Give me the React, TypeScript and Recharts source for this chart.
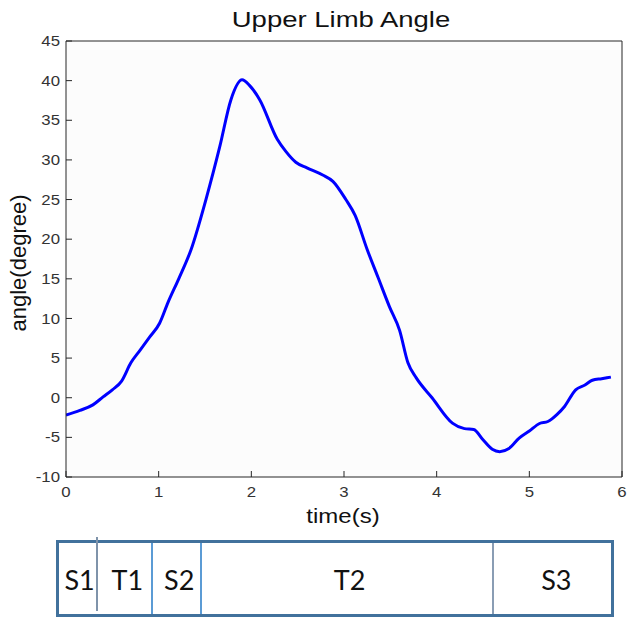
import { CartesianGrid, Line, LineChart, XAxis, YAxis } from "recharts";

// upper limb angle over one movement cycle
const timeSec = [
  0, 0.15, 0.29, 0.4, 0.5, 0.6, 0.7, 0.8, 0.9, 1.01, 1.1, 1.22, 1.35, 1.51,
  1.66, 1.78, 1.9, 1.98, 2.09, 2.28, 2.37, 2.48, 2.6, 2.77, 2.88, 3.02, 3.12,
  3.25, 3.37, 3.49, 3.6, 3.69, 3.78, 3.95, 4.17, 4.3, 4.4, 4.5, 4.6, 4.68,
  4.78, 4.89, 5.0, 5.11, 5.2, 5.3, 5.38, 5.5, 5.6, 5.68, 5.78, 5.88,
];
const angleDeg = [
  -2.2, -1.6, -0.9, 0.1, 1.0, 2.1, 4.4, 6.0, 7.6, 9.4, 12.0, 15.1, 18.7, 25.0,
  31.7, 37.6, 40.1, 39.4, 37.6, 32.6, 31.1, 29.7, 29.0, 28.1, 27.3, 25.0, 23.0,
  18.7, 15.1, 11.5, 8.5, 4.4, 2.5, 0.0, -3.2, -3.9, -4.0, -5.3, -6.5, -6.8,
  -6.4, -5.1, -4.2, -3.25, -3.0, -2.1, -1.1, 1.0, 1.6, 2.2, 2.4, 2.6,
];

const xTicks = [0, 1, 2, 3, 4, 5, 6];
const yTicks = [-10, -5, 0, 5, 10, 15, 20, 25, 30, 35, 40, 45];

// movement phases and where they start/end (seconds)
const phaseLabels = ["S1", "T1", "S2", "T2", "S3"];
const phaseBounds = [-0.09, 0.35, 0.94, 1.47, 4.62, 5.93];
const dividerColors = ["#7f93aa", "#5b9bd5", "#5b9bd5", "#8a9db4"];

const data = timeSec.map((t, i) => ({ t, angle: angleDeg[i] }));

const W = 627;
const H = 620;
const PLOT_LEFT = 66;
const PLOT_RIGHT = 622;
const X_MIN = 0;
const X_MAX = 6;

const FONT = "'Liberation Sans', Arial, Helvetica, sans-serif";
const AXIS = "#262626";

const toPx = (t: number) =>
  PLOT_LEFT + ((t - X_MIN) / (X_MAX - X_MIN)) * (PLOT_RIGHT - PLOT_LEFT);

function YTick(props: any) {
  const { x, y, payload } = props;
  return (
    <text
      transform={`translate(${x},${y}) scale(1.2,1)`}
      textAnchor="end"
      dy="0.36em"
      fontSize={14}
      fontFamily={FONT}
      fill="#333"
    >
      {payload.value}
    </text>
  );
}

function XTick(props: any) {
  const { x, y, payload } = props;
  return (
    <text
      transform={`translate(${x},${y}) scale(1.2,1)`}
      textAnchor="middle"
      dy="0.71em"
      fontSize={14}
      fontFamily={FONT}
      fill="#333"
    >
      {payload.value}
    </text>
  );
}

function PhaseBar() {
  const left = toPx(phaseBounds[0]);
  const right = toPx(phaseBounds[phaseBounds.length - 1]);
  return (
    <div
      style={{
        position: "absolute",
        left: left - 1.5,
        top: 540,
        width: right - left,
        height: 77,
        border: "3px solid #41719c",
        boxSizing: "border-box",
        background: "#fff",
      }}
    >
      {phaseLabels.map((label, i) => {
        const x0 = toPx(phaseBounds[i]) - left;
        const x1 = toPx(phaseBounds[i + 1]) - left;
        return (
          <div
            key={label}
            style={{
              position: "absolute",
              left: x0,
              width: x1 - x0,
              top: 0,
              bottom: 0,
              display: "flex",
              alignItems: "center",
              justifyContent: "center",
              fontFamily: "Lato, 'Open Sans', sans-serif",
              fontSize: 27,
              color: "#111",
              paddingTop: 2,
            }}
          >
            {label}
          </div>
        );
      })}
      {dividerColors.map((c, i) => {
        const x = toPx(phaseBounds[i + 1]) - left - 3;
        return (
          <div
            key={i}
            style={{
              position: "absolute",
              left: x - 1,
              top: i === 0 ? -6 : 0,
              bottom: i === 0 ? 3 : 0,
              width: 2,
              background: c,
            }}
          />
        );
      })}
    </div>
  );
}

export default function App() {
  return (
    <div
      style={{
        position: "fixed",
        left: 0,
        top: 0,
        width: W,
        height: H,
        background: "#fff",
      }}
    >
      <LineChart
        width={W}
        height={H}
        data={data}
        margin={{ top: 40, right: W - PLOT_RIGHT - 1, left: 0, bottom: 113 }}
      >
        <CartesianGrid
          horizontal={false}
          vertical={false}
          fill="#fcfcfc"
          xAxisId="x"
          yAxisId="y"
        />
        <XAxis
          xAxisId="x"
          dataKey="t"
          type="number"
          domain={[X_MIN, X_MAX]}
          ticks={xTicks}
          height={30}
          stroke={AXIS}
          tickSize={-6}
          tickMargin={16}
          tick={<XTick />}
          allowDataOverflow
        />
        <XAxis
          xAxisId="top"
          orientation="top"
          dataKey="t"
          type="number"
          domain={[X_MIN, X_MAX]}
          ticks={xTicks}
          height={1}
          stroke={AXIS}
          tickSize={-6}
          tick={false}
          allowDataOverflow
        />
        <YAxis
          yAxisId="y"
          type="number"
          domain={[-10, 45]}
          ticks={yTicks}
          width={PLOT_LEFT}
          stroke={AXIS}
          tickSize={-6}
          tickMargin={12}
          tick={<YTick />}
          allowDataOverflow
        />
        <YAxis
          yAxisId="right"
          orientation="right"
          type="number"
          domain={[-10, 45]}
          ticks={yTicks}
          width={1}
          stroke={AXIS}
          tickSize={-6}
          tick={false}
          allowDataOverflow
        />
        {/* invisible copy so the top/right box axes get drawn */}
        <Line
          xAxisId="top"
          yAxisId="right"
          type="monotone"
          dataKey="angle"
          stroke="none"
          dot={false}
          activeDot={false}
          isAnimationActive={false}
        />
        <Line
          xAxisId="x"
          yAxisId="y"
          type="monotone"
          dataKey="angle"
          stroke="#0000ff"
          strokeWidth={3}
          dot={false}
          isAnimationActive={false}
        />
      </LineChart>
      <svg
        width={W}
        height={H}
        style={{ position: "absolute", left: 0, top: 0, pointerEvents: "none" }}
      >
        <text
          transform="translate(341,27) scale(1.25,1)"
          textAnchor="middle"
          fontSize={22}
          fontFamily={FONT}
          fill="#111"
        >
          Upper Limb Angle
        </text>
        <text
          transform="translate(343,523) scale(1.2,1)"
          textAnchor="middle"
          fontSize={20}
          fontFamily={FONT}
          fill="#111"
        >
          time(s)
        </text>
        <text
          transform="translate(26,263) rotate(-90)"
          textAnchor="middle"
          fontSize={22}
          fontFamily={FONT}
          fill="#111"
        >
          angle(degree)
        </text>
      </svg>
      <PhaseBar />
    </div>
  );
}
